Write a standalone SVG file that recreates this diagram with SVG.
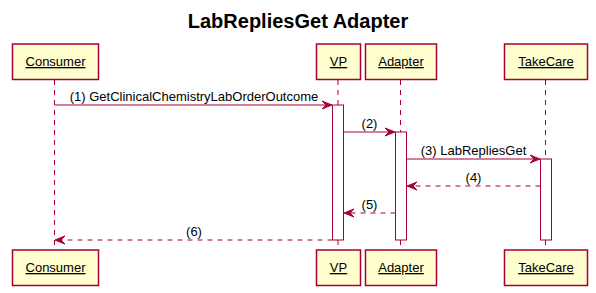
<svg xmlns="http://www.w3.org/2000/svg" width="596" height="293" viewBox="0 0 596 293">
  <style>
    .title { font-family: "Liberation Sans", Arial, sans-serif; font-size: 20px; font-weight: bold; fill: #000; }
    .ptext { font-family: "Liberation Sans", Arial, sans-serif; font-size: 13px; fill: #000; text-decoration: underline; }
    .mtext { font-family: "Liberation Sans", Arial, sans-serif; font-size: 13px; fill: #000; }
    .pbox { fill: #FEFECE; stroke: #A80036; stroke-width: 1.5; }
    .life { stroke: #A80036; stroke-width: 1; stroke-dasharray: 5,5; fill: none; }
    .act { fill: #FFFFFF; stroke: #A80036; stroke-width: 1; }
    .msg { stroke: #A80036; stroke-width: 1; fill: none; }
    .ret { stroke: #A80036; stroke-width: 1; stroke-dasharray: 5,5; fill: none; }
    .head { fill: #A80036; stroke: #A80036; stroke-width: 1; }
  </style>

  <text class="title" x="298" y="28" text-anchor="middle">LabRepliesGet Adapter</text>

  <!-- lifelines -->
  <g id="lifelines">
    <line class="life" x1="54.5" y1="80" x2="54.5" y2="250"/>
    <line class="life" x1="338" y1="80" x2="338" y2="250"/>
    <line class="life" x1="400.5" y1="80" x2="400.5" y2="250"/>
    <line class="life" x1="545.5" y1="80" x2="545.5" y2="250"/>
  </g>

  <!-- activation bars -->
  <g id="activations">
    <rect class="act" x="332.5" y="105" width="11" height="135"/>
    <rect class="act" x="395.5" y="132" width="11" height="108"/>
    <rect class="act" x="540.5" y="159" width="11" height="81"/>
  </g>

  <g id="consumer">
    <rect class="pbox" x="12.5" y="44" width="86" height="35.5"/>
    <text class="ptext" x="55.5" y="66" text-anchor="middle">Consumer</text>
    <rect class="pbox" x="12.5" y="250" width="86" height="35.5"/>
    <text class="ptext" x="55.5" y="272" text-anchor="middle">Consumer</text>
  </g>
  <g id="vp">
    <rect class="pbox" x="316.5" y="44" width="44" height="35.5"/>
    <text class="ptext" x="338.5" y="66" text-anchor="middle">VP</text>
    <rect class="pbox" x="316.5" y="250" width="44" height="35.5"/>
    <text class="ptext" x="338.5" y="272" text-anchor="middle">VP</text>
  </g>
  <g id="adapter">
    <rect class="pbox" x="365.5" y="44" width="71" height="35.5"/>
    <text class="ptext" x="401" y="66" text-anchor="middle">Adapter</text>
    <rect class="pbox" x="365.5" y="250" width="71" height="35.5"/>
    <text class="ptext" x="401" y="272" text-anchor="middle">Adapter</text>
  </g>
  <g id="takecare">
    <rect class="pbox" x="504.5" y="44" width="83" height="35.5"/>
    <text class="ptext" x="546" y="66" text-anchor="middle">TakeCare</text>
    <rect class="pbox" x="504.5" y="250" width="83" height="35.5"/>
    <text class="ptext" x="546" y="272" text-anchor="middle">TakeCare</text>
  </g>

  <!-- messages -->
  <g id="connectors">
    <line class="msg" x1="54.5" y1="105" x2="331" y2="105"/>
    <polygon class="head" points="322,101 332,105 322,109 326,105"/>
    <text class="mtext" x="194" y="101" text-anchor="middle">(1) GetClinicalChemistryLabOrderOutcome</text>

    <line class="msg" x1="343.5" y1="132" x2="394" y2="132"/>
    <polygon class="head" points="385,128 395,132 385,136 389,132"/>
    <text class="mtext" x="369.5" y="128" text-anchor="middle">(2)</text>

    <line class="msg" x1="406.5" y1="159" x2="539" y2="159"/>
    <polygon class="head" points="530,155 540,159 530,163 534,159"/>
    <text class="mtext" x="473.5" y="155" text-anchor="middle">(3) LabRepliesGet</text>

    <line class="ret" x1="540.5" y1="186" x2="408" y2="186"/>
    <polygon class="head" points="417,182 407,186 417,190 413,186"/>
    <text class="mtext" x="473.5" y="182" text-anchor="middle">(4)</text>

    <line class="ret" x1="395.5" y1="213" x2="345" y2="213"/>
    <polygon class="head" points="354,209 344,213 354,217 350,213"/>
    <text class="mtext" x="369.5" y="209" text-anchor="middle">(5)</text>

    <line class="ret" x1="332.5" y1="240" x2="56" y2="240"/>
    <polygon class="head" points="65,236 55,240 65,244 61,240"/>
    <text class="mtext" x="194" y="236" text-anchor="middle">(6)</text>
  </g>
</svg>
